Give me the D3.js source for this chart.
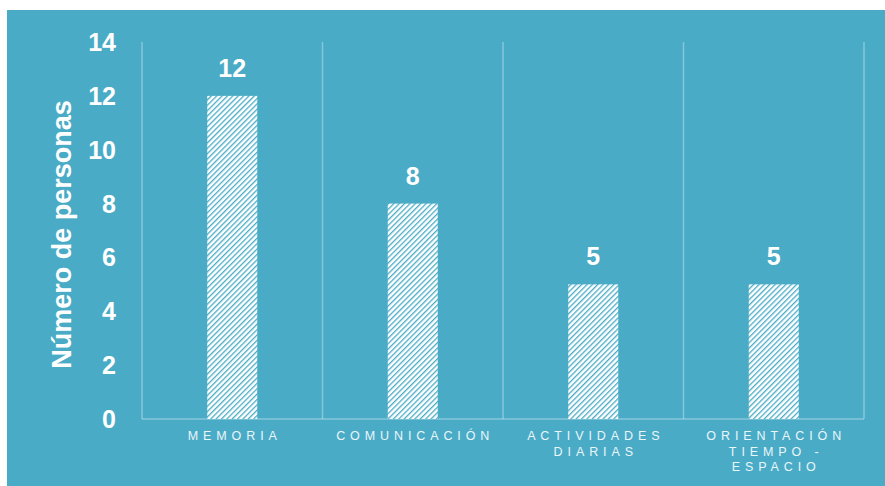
<!DOCTYPE html>
<html>
<head>
<meta charset="utf-8">
<script src="https://cdn.jsdelivr.net/npm/d3@7"></script>
<style>
  html, body { margin: 0; padding: 0; background: #ffffff; }
  svg { display: block; }
</style>
</head>
<body>
<svg id="chart" width="885" height="486"></svg>
<script>
// Areas of difficulty and number of people reporting each
const categories = ["MEMORIA", "COMUNICACIÓN", "ACTIVIDADES DIARIAS", "ORIENTACIÓN TIEMPO - ESPACIO"];
const categoryLines = [["MEMORIA"], ["COMUNICACIÓN"], ["ACTIVIDADES", "DIARIAS"], ["ORIENTACIÓN", "TIEMPO -", "ESPACIO"]];
const values = [12, 8, 5, 5];
const yTicks = [0, 2, 4, 6, 8, 10, 12, 14];
const yTitle = "Número de personas";

const bg = "#4aabc6";
const font = "Liberation Sans, Arial, sans-serif";
const svg = d3.select("#chart");
const W = 885, H = 486;
const m = { left: 142, right: 21, top: 42, bottom: 67 };

svg.append("rect").attr("x", 7).attr("y", 10).attr("width", W - 7).attr("height", H - 10).attr("fill", bg);

// Diagonal hatch fill for the bars
const defs = svg.append("defs");
const pw = 3.8;
const pat = defs.append("pattern")
  .attr("id", "hatch").attr("patternUnits", "userSpaceOnUse")
  .attr("width", pw).attr("height", pw)
  .attr("patternTransform", "rotate(45)");
pat.append("rect").attr("width", pw).attr("height", pw).attr("fill", "#ffffff");
pat.append("rect").attr("x", 0).attr("y", 0).attr("width", 1.3).attr("height", pw).attr("fill", bg);

const x = d3.scaleBand().domain(categories).range([m.left, W - m.right]).paddingInner(0).paddingOuter(0);
const y = d3.scaleLinear().domain([0, 14]).range([H - m.bottom, m.top]);

const gridColor = "rgba(255,255,255,0.33)";

// Vertical separators between categories
const seps = categories.map(c => x(c)).concat([x(categories[categories.length - 1]) + x.bandwidth()]);
svg.append("g").selectAll("line").data(seps).join("line")
  .attr("x1", d => d).attr("x2", d => d)
  .attr("y1", y(14)).attr("y2", y(0))
  .attr("stroke", gridColor).attr("stroke-width", 1.5);

// Baseline
svg.append("line")
  .attr("x1", m.left).attr("x2", W - m.right)
  .attr("y1", y(0)).attr("y2", y(0))
  .attr("stroke", gridColor).attr("stroke-width", 1.5);

// Y axis tick labels
const yAxis = d3.axisLeft(y).tickValues(yTicks).tickSize(0).tickPadding(26);
const gy = svg.append("g").attr("transform", `translate(${m.left},0)`).call(yAxis);
gy.select(".domain").remove();
gy.selectAll("text")
  .attr("fill", "#ffffff")
  .attr("font-family", font)
  .attr("font-weight", "bold")
  .attr("font-size", 25)
  .attr("dy", "0.34em");

// Y axis title
svg.append("text")
  .attr("transform", `translate(71,${(y(0) + y(14)) / 2 + 4}) rotate(-90)`)
  .attr("text-anchor", "middle")
  .attr("fill", "#ffffff")
  .attr("font-family", font)
  .attr("font-weight", "bold")
  .attr("font-size", 27)
  .text(yTitle);

// Bars
const barW = 50;
svg.append("g").selectAll("rect").data(values).join("rect")
  .attr("x", (d, i) => x(categories[i]) + x.bandwidth() / 2 - barW / 2)
  .attr("y", d => y(d))
  .attr("width", barW)
  .attr("height", d => y(0) - y(d))
  .attr("fill", "url(#hatch)");

// Value labels
svg.append("g").selectAll("text").data(values).join("text")
  .attr("x", (d, i) => x(categories[i]) + x.bandwidth() / 2)
  .attr("y", d => y(d) - 19)
  .attr("text-anchor", "middle")
  .attr("fill", "#ffffff")
  .attr("font-family", font)
  .attr("font-weight", "bold")
  .attr("font-size", 25)
  .text(d => d);

// Category labels (letter-spaced, wrapped)
const cg = svg.append("g");
categories.forEach((c, i) => {
  const t = cg.append("text")
    .attr("text-anchor", "middle")
    .attr("fill", "#eaf6fa")
    .attr("font-family", font)
    .attr("font-size", 12.5)
    .attr("letter-spacing", 4.9);
  categoryLines[i].forEach((line, j) => {
    t.append("tspan")
      .attr("x", x(c) + x.bandwidth() / 2 + 2.5)
      .attr("y", y(0) + 21 + j * 15.5)
      .text(line);
  });
});
</script>
</body>
</html>
